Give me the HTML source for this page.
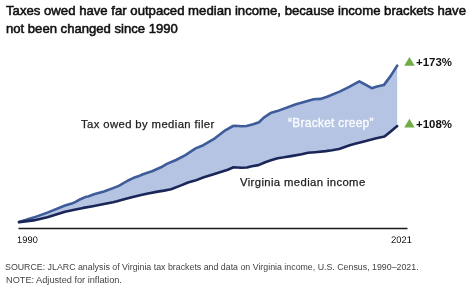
<!DOCTYPE html>
<html><head><meta charset="utf-8"><style>
html,body{margin:0;padding:0;background:#fff;width:474px;height:292px;overflow:hidden;position:relative}
.t{position:absolute;font-family:"Liberation Sans",sans-serif;white-space:nowrap;line-height:1;will-change:transform}
</style></head><body>
<svg width="474" height="292" style="position:absolute;left:0;top:0">
<polygon points="19.0,222.1 33.4,217.6 47.4,212.6 65.0,205.5 71.7,203.6 75.6,201.9 80.4,199.2 85.2,197.1 88.0,196.5 94.8,194.1 104.0,191.5 113.0,188.1 118.8,185.9 128.0,180.5 133.2,178.1 138.9,176.1 143.0,174.2 152.0,171.2 161.0,167.3 166.8,163.9 176.0,160.0 185.0,155.3 195.6,148.4 203.3,145.2 214.9,138.3 225.3,130.3 233.0,126.0 235.3,125.7 241.7,126.2 246.5,126.0 253.2,124.3 259.0,122.2 263.8,117.6 270.5,113.1 277.2,111.1 296.0,104.2 313.7,99.3 320.4,98.9 327.1,96.7 339.6,91.6 349.2,86.8 359.3,81.3 365.5,84.7 371.7,88.2 377.0,86.6 383.8,85.1 390.9,75.6 397.2,65.6 397.2,126.1 390.7,131.4 384.5,136.6 375.3,138.6 363.1,141.7 356.0,143.6 349.7,145.2 339.1,149.0 332.0,150.2 325.7,151.1 315.1,152.2 308.0,152.8 301.7,154.2 291.1,156.1 284.0,157.3 277.7,158.2 270.9,160.3 265.2,162.2 258.5,165.1 251.8,166.2 246.9,167.5 241.2,167.7 233.5,167.3 227.8,169.7 219.1,172.5 212.0,174.7 203.8,177.3 195.1,180.6 188.0,182.5 181.7,185.1 171.1,189.2 164.0,190.6 157.7,191.6 148.0,193.5 140.0,195.3 131.8,197.2 126.0,198.8 117.0,201.3 113.0,202.2 104.0,204.0 92.8,206.2 83.2,207.9 75.6,209.6 65.0,211.8 47.4,217.2 33.4,220.4 19.0,222.1" fill="#B4C4E2"/>
<polyline points="19.0,222.1 33.4,217.6 47.4,212.6 65.0,205.5 71.7,203.6 75.6,201.9 80.4,199.2 85.2,197.1 88.0,196.5 94.8,194.1 104.0,191.5 113.0,188.1 118.8,185.9 128.0,180.5 133.2,178.1 138.9,176.1 143.0,174.2 152.0,171.2 161.0,167.3 166.8,163.9 176.0,160.0 185.0,155.3 195.6,148.4 203.3,145.2 214.9,138.3 225.3,130.3 233.0,126.0 235.3,125.7 241.7,126.2 246.5,126.0 253.2,124.3 259.0,122.2 263.8,117.6 270.5,113.1 277.2,111.1 296.0,104.2 313.7,99.3 320.4,98.9 327.1,96.7 339.6,91.6 349.2,86.8 359.3,81.3 365.5,84.7 371.7,88.2 377.0,86.6 383.8,85.1 390.9,75.6 397.2,65.6" fill="none" stroke="#3E5C9A" stroke-width="2.6" stroke-linejoin="round" stroke-linecap="round"/>
<polyline points="19.0,222.1 33.4,220.4 47.4,217.2 65.0,211.8 75.6,209.6 83.2,207.9 92.8,206.2 104.0,204.0 113.0,202.2 117.0,201.3 126.0,198.8 131.8,197.2 140.0,195.3 148.0,193.5 157.7,191.6 164.0,190.6 171.1,189.2 181.7,185.1 188.0,182.5 195.1,180.6 203.8,177.3 212.0,174.7 219.1,172.5 227.8,169.7 233.5,167.3 241.2,167.7 246.9,167.5 251.8,166.2 258.5,165.1 265.2,162.2 270.9,160.3 277.7,158.2 284.0,157.3 291.1,156.1 301.7,154.2 308.0,152.8 315.1,152.2 325.7,151.1 332.0,150.2 339.1,149.0 349.7,145.2 356.0,143.6 363.1,141.7 375.3,138.6 384.5,136.6 390.7,131.4 397.2,126.1" fill="none" stroke="#1B2658" stroke-width="2.6" stroke-linejoin="round" stroke-linecap="round"/>
<line x1="18.5" y1="228.4" x2="407.5" y2="228.4" stroke="#1a1a1a" stroke-width="1.5"/>
<polygon points="404.2,65.8 414.7,65.8 409.45,57" fill="#70AD47"/>
<polygon points="404.2,127.6 414.7,127.6 409.45,118.8" fill="#70AD47"/>
</svg>
<div class="t" style="left:6px;top:3.8px;font-size:13.17px;font-weight:normal;-webkit-text-stroke:0.55px #111;color:#111;letter-spacing:0px">Taxes owed have far outpaced median income, because income brackets have</div>
<div class="t" style="left:6px;top:21.6px;font-size:13.1px;font-weight:normal;-webkit-text-stroke:0.55px #111;color:#111;letter-spacing:0px">not been changed since 1990</div>
<div class="t" style="left:80.8px;top:118.5px;font-size:11.3px;font-weight:normal;-webkit-text-stroke:0.25px #222;color:#222;letter-spacing:0.39px">Tax owed by median filer</div>
<div class="t" style="left:239.5px;top:177.2px;font-size:11.3px;font-weight:normal;-webkit-text-stroke:0.25px #222;color:#222;letter-spacing:0.38px">Virginia median income</div>
<div class="t" style="left:288px;top:117.6px;font-size:11.9px;font-weight:normal;-webkit-text-stroke:0.35px #FAFBFD;color:#FAFBFD;letter-spacing:0.3px">“Bracket creep”</div>
<div class="t" style="left:415.8px;top:57px;font-size:11.45px;font-weight:bold;color:#111;letter-spacing:0px">+173%</div>
<div class="t" style="left:415.8px;top:119px;font-size:11.45px;font-weight:bold;color:#111;letter-spacing:0px">+108%</div>
<div class="t" style="left:5.2px;top:263.3px;font-size:8.82px;font-weight:normal;color:#444;letter-spacing:0px">SOURCE: JLARC analysis of Virginia tax brackets and data on Virginia income, U.S. Census, 1990–2021.</div>
<div class="t" style="left:5.6px;top:276px;font-size:9.2px;font-weight:normal;color:#444;letter-spacing:0px">NOTE: Adjusted for inflation.</div>
<div class="t" style="left:17px;top:235.3px;font-size:20px;color:#1a1a1a;transform:scale(0.47);transform-origin:0 0">1990</div>
<div class="t" style="left:390.8px;top:235.3px;font-size:20px;color:#1a1a1a;transform:scale(0.47);transform-origin:0 0">2021</div>
</body></html>
